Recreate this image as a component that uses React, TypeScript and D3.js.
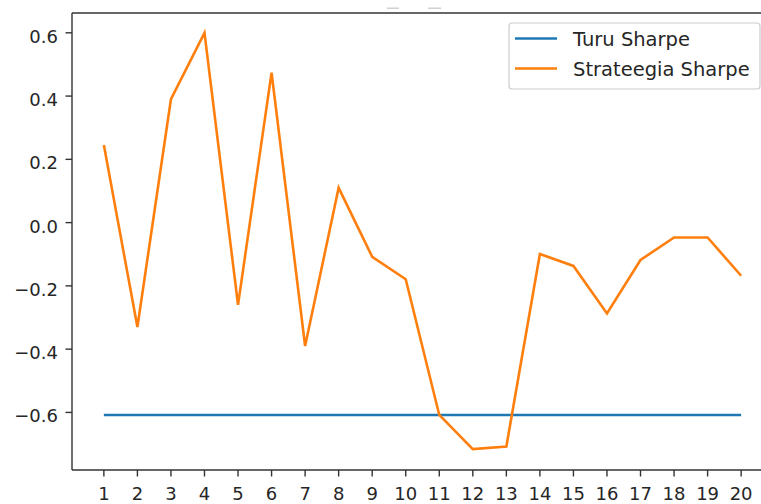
import React from "react";
import * as d3 from "d3";

const periods: number[] = Array.from({ length: 20 }, (_, i) => i + 1);
const strategySharpe: number[] = [
  0.245, -0.33, 0.39, 0.6, -0.26, 0.474, -0.39, 0.11, -0.108, -0.179,
  -0.608, -0.716, -0.708, -0.099, -0.137, -0.287, -0.118, -0.047, -0.047, -0.168,
];
const turuSharpe: number[] = periods.map(() => -0.608);
const yTicks: number[] = [-0.6, -0.4, -0.2, 0.0, 0.2, 0.4, 0.6];
const seriesNames: string[] = ["Turu Sharpe", "Strateegia Sharpe"];
const seriesColors: string[] = ["#1f77b4", "#ff7f0e"];

const W = 761;
const H = 504;
const left = 72;
const right = 773;
const top = 13;
const bottom = 470;
const font = "'DejaVu Sans', sans-serif";
const textColor = "#262626";

export default function App() {
  const x = d3.scaleLinear().domain([0.05, 20.95]).range([left, right]);
  const y = d3.scaleLinear().domain([-0.782, 0.6626]).range([bottom, top]);
  const line = d3
    .line<[number, number]>()
    .x((d) => x(d[0]))
    .y((d) => y(d[1]));
  const turuPts: [number, number][] = periods.map((p, i) => [p, turuSharpe[i]]);
  const stratPts: [number, number][] = periods.map((p, i) => [p, strategySharpe[i]]);
  const fmt = (v: number) => {
    const s = d3.format(".1f")(Math.abs(v));
    return v < -1e-9 ? "\u2212" + s : s;
  };

  return (
    <svg
      width={W}
      height={H}
      style={{ position: "fixed", left: 0, top: 0, background: "#fff" }}
      fontFamily={font}
    >
      <rect x={0} y={0} width={W} height={H} fill="#fff" />
      {/* clipped title remnants */}
      <rect x={387} y={7.5} width={12} height={1.5} fill="#d0d0d0" />
      <rect x={428} y={7.5} width={13} height={1.5} fill="#d0d0d0" />

      {/* lines */}
      <path d={line(turuPts) || ""} fill="none" stroke={seriesColors[0]} strokeWidth={2.6} />
      <path d={line(stratPts) || ""} fill="none" stroke={seriesColors[1]} strokeWidth={2.6} strokeLinejoin="miter" />

      {/* spines */}
      <line x1={left} x2={left} y1={top} y2={bottom} stroke="#333" strokeWidth={1.4} />
      <line x1={left} x2={right} y1={bottom} y2={bottom} stroke="#333" strokeWidth={1.4} />
      <line x1={left} x2={right} y1={top} y2={top} stroke="#333" strokeWidth={1.4} />
      <line x1={right} x2={right} y1={top} y2={bottom} stroke="#333" strokeWidth={1.4} />

      {/* y ticks */}
      {yTicks.map((t) => (
        <g key={"y" + t}>
          <line x1={left - 6.5} x2={left} y1={y(t)} y2={y(t)} stroke="#333" strokeWidth={1.4} />
          <text
            x={left - 14}
            y={y(t) + 10}
            textAnchor="end"
            fontSize={18}
            fill={textColor}
          >
            {fmt(t)}
          </text>
        </g>
      ))}

      {/* x ticks */}
      {periods.map((p) => (
        <g key={"x" + p}>
          <line x1={x(p)} x2={x(p)} y1={bottom} y2={bottom + 6.5} stroke="#333" strokeWidth={1.4} />
          <text x={x(p)} y={bottom + 30} textAnchor="middle" fontSize={18} fill={textColor}>
            {p}
          </text>
        </g>
      ))}

      {/* legend */}
      <rect
        x={509}
        y={23}
        width={251}
        height={66}
        rx={3}
        fill="#fff"
        fillOpacity={0.8}
        stroke="#cccccc"
        strokeWidth={1.2}
      />
      {seriesNames.map((n, i) => (
        <g key={n}>
          <line
            x1={515}
            x2={557}
            y1={38.5 + i * 30}
            y2={38.5 + i * 30}
            stroke={seriesColors[i]}
            strokeWidth={2.6}
          />
          <text x={573} y={46 + i * 30} fontSize={19.5} fill={textColor}>
            {n}
          </text>
        </g>
      ))}
    </svg>
  );
}
